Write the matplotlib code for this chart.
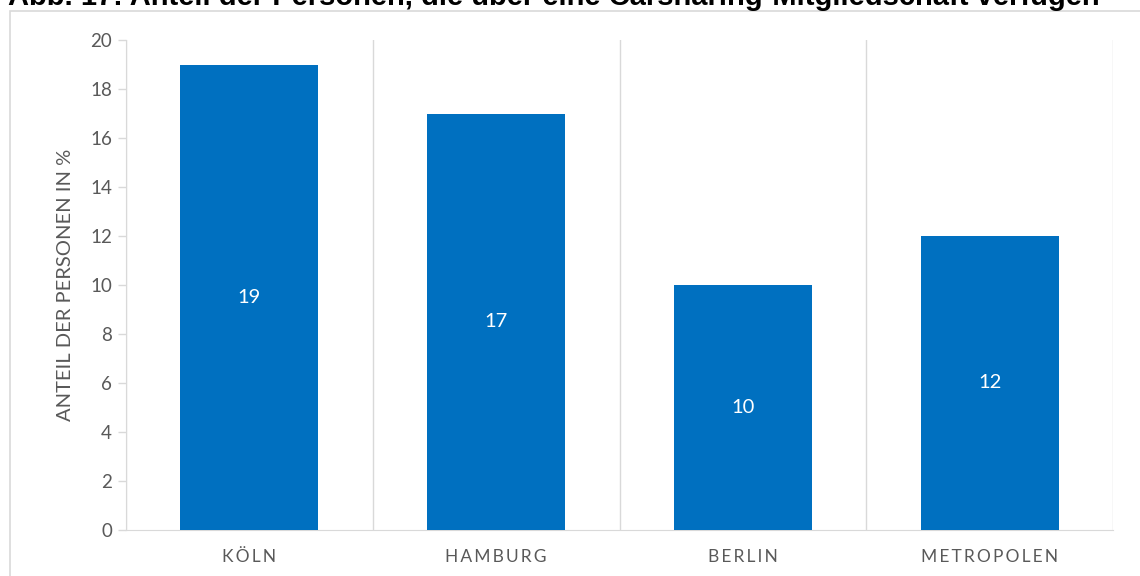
import matplotlib.pyplot as plt
from matplotlib.patches import Rectangle

staedte = ['KÖLN', 'HAMBURG', 'BERLIN', 'METROPOLEN']
anteil = [19, 17, 10, 12]
yticks = list(range(0, 21, 2))

titel = 'Abb. 17: Anteil der Personen, die über eine Carsharing-Mitgliedschaft verfügen'
ylabel = 'ANTEIL DER PERSONEN IN %'

blau = '#0070C0'
grau_text = '#595959'
grau_linie = '#d9d9d9'

plt.rcParams['font.family'] = ['Lato', 'DejaVu Sans']

fig = plt.figure(figsize=(11.4, 5.76), dpi=100)
ax = fig.add_axes([126 / 1140, 1 - 530 / 576, (1113 - 126) / 1140, 490 / 576])

x = list(range(len(staedte)))
bars = ax.bar(x, anteil, width=0.56, color=blau, zorder=3)
for b, v in zip(bars, anteil):
    ax.text(b.get_x() + b.get_width() / 2, v / 2, str(v), ha='center', va='center',
            color='white', fontsize=14.5, zorder=4)

ax.set_xlim(-0.5, len(staedte) - 0.5)
ax.set_ylim(0, 20)
ax.set_yticks(yticks)
ax.tick_params(axis='y', colors=grau_linie, labelcolor=grau_text, labelsize=13.5,
               length=6, width=1, pad=4)

# Kategoriegrenzen als vertikale Gitterlinien
ax.set_xticks(x)
ax.set_xticklabels(['\u2009'.join(s) for s in staedte], color=grau_text, fontsize=12.5)
ax.set_xticks([i - 0.5 for i in range(len(staedte) + 1)], minor=True)
ax.tick_params(axis='x', which='major', length=0, pad=14)
ax.tick_params(axis='x', which='minor', length=0)
ax.grid(axis='x', which='minor', color=grau_linie, linewidth=1, zorder=0)

for s in ['top', 'right']:
    ax.spines[s].set_visible(False)
ax.spines['left'].set_color(grau_linie)
ax.spines['bottom'].set_color(grau_linie)

ax.set_ylabel(ylabel, color=grau_text, fontsize=14.5, labelpad=12)

fig.text(8 / 1140, 1 - 5 / 576, titel, fontsize=21, fontweight='bold',
         family=['Liberation Sans', 'DejaVu Sans'], va='baseline', ha='left')

fig.patches.append(Rectangle((10 / 1140, -0.1), 1.2, 1.1 - 11.5 / 576, transform=fig.transFigure,
                             fill=False, edgecolor=grau_linie, linewidth=1.2))

fig.savefig('out.png', dpi=100)
